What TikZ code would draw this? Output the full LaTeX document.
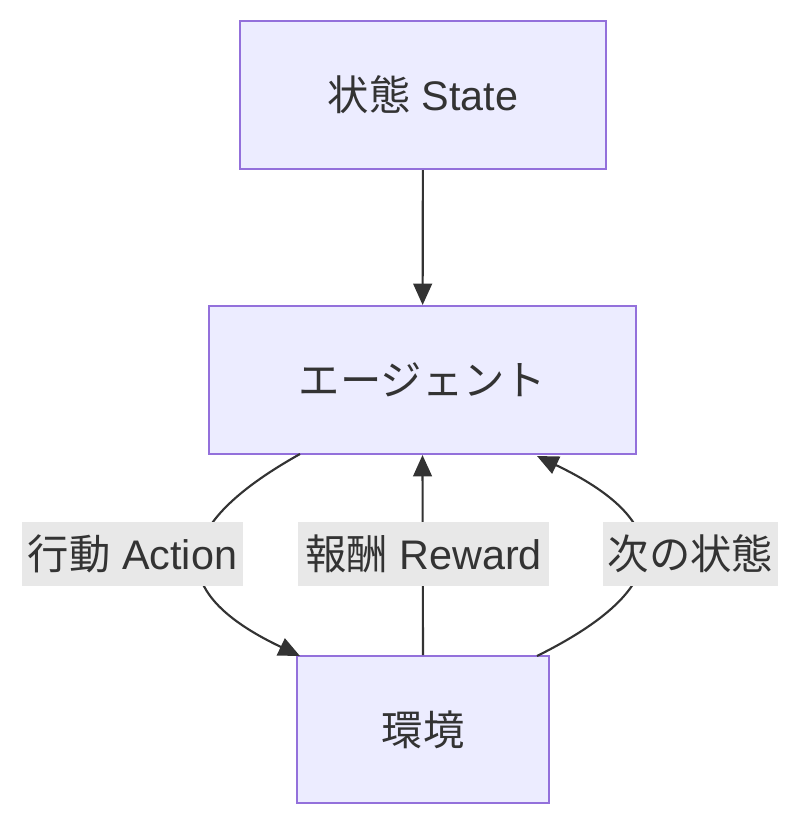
\documentclass[tikz,border=0pt]{standalone}
\usepackage{fontspec}
\setmainfont{Liberation Sans}
\newfontfamily\cjk{Noto Sans CJK JP}
\usetikzlibrary{arrows.meta}
\definecolor{nodefill}{HTML}{ECECFF}
\definecolor{nodeline}{HTML}{9370DB}
\definecolor{txt}{HTML}{333333}
\definecolor{lblbg}{HTML}{E8E8E8}
\begin{document}
\begin{tikzpicture}[x=0.75pt,y=-0.75pt,
  box/.style={draw=nodeline,fill=nodefill,line width=1.5pt,text=txt,inner sep=0pt,font=\fontsize{31}{36}\selectfont},
  lbl/.style={fill=lblbg,text=txt,inner sep=0pt,font=\fontsize{31}{36}\selectfont},
  edge/.style={draw=txt,line width=1.6pt,-{Triangle[length=16pt,width=14pt]}}]
\useasboundingbox (0,0) rectangle (800,826);
\node[box,minimum width=366*0.75pt,minimum height=148*0.75pt] (s) at (423,95) {{\cjk 状態} State};
\node[box,minimum width=427*0.75pt,minimum height=148*0.75pt] (a) at (422.5,380) {\cjk エージェント};
\node[box,minimum width=252*0.75pt,minimum height=147*0.75pt] (e) at (423,729.5) {\cjk 環境};
\draw[edge] (s) -- (a);
\draw[edge] (e.north) -- (a.south);
\draw[edge] (300,454) .. controls (200,510) and (140,580) .. (300,656);
\draw[edge] (537,656) .. controls (700,575) and (650,510) .. (537,456);
\node[lbl,minimum width=221*0.75pt,minimum height=64*0.75pt] (l1) at (132.5,554) {{\cjk 行動} Action};
\node[lbl,minimum width=251*0.75pt,minimum height=64*0.75pt] (l2) at (423.5,554) {{\cjk 報酬} Reward};
\node[lbl,minimum width=175*0.75pt,minimum height=64*0.75pt] (l3) at (690.5,554) {\cjk 次の状態};
\end{tikzpicture}
\end{document}
